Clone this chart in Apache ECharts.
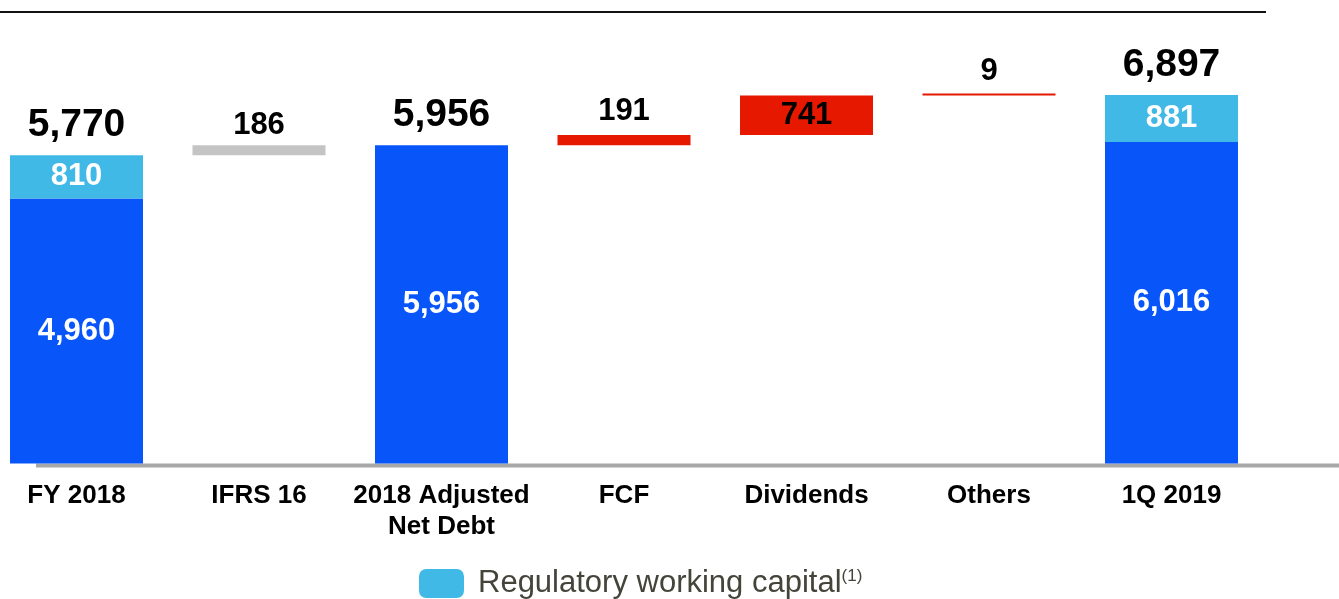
<html>
<head>
    <meta charset="utf-8">
    <title>Net Debt Bridge</title>
    <script src="https://cdn.jsdelivr.net/npm/echarts@6/dist/echarts.min.js"></script>
    <style>
        html, body { margin: 0; padding: 0; width: 100%; height: 100%; background: #fff; }
        #main { width: 1339px; height: 599px; }
    </style>
</head>
<body>
    <div id="main"></div>
    <script type="text/javascript">
        // data
        var categories = ['FY 2018', 'IFRS 16', '2018 Adjusted\nNet Debt', 'FCF', 'Dividends', 'Others', '1Q 2019'];
        var netDebt    = [4960, null, 5956, null, null, null, 6016];
        var regWorkCap = [810, null, null, null, null, null, 881];
        var changes    = [null, 186, null, 191, 741, 9, null];
        var totals     = [5770, null, 5956, null, null, null, 6897];

        var FONT = '"Liberation Sans", Arial, sans-serif';
        var DARK_BLUE = '#0856fa', LIGHT_BLUE = '#41b9e6', GREY = '#c4c4c4', RED = '#e61800';

        function fmt(v) { return Number(v).toLocaleString('en-US'); }

        // invisible base of the waterfall, computed from totals and changes
        var base = [];
        var running = 0;
        for (var i = 0; i < categories.length; i++) {
            if (totals[i] != null) {
                base.push(0);
                running = totals[i];
            } else {
                base.push(running);
                running += changes[i];
            }
        }

        // colour / label place for each change step
        var changeColor = { 'IFRS 16': GREY };
        var changeLabelPos = { 'Dividends': 'inside' };
        var changeLabelDist = { 'IFRS 16': 4, 'FCF': 8, 'Others': 6 };

        var changeData = changes.map(function (v, i) {
            if (v == null) return null;
            var c = categories[i];
            return {
                value: v,
                itemStyle: { color: changeColor[c] || RED },
                label: {
                    position: changeLabelPos[c] || 'top',
                    distance: changeLabelDist[c] || 5
                }
            };
        });

        // zero-height cap on top of each total column, only carries the total label
        var totalCap = totals.map(function (v) { return v == null ? null : 0; });

        var myChart = echarts.init(document.getElementById('main'));

        var option = {
            animation: false,
            grid: { left: 76.5, right: 167.5, top: 36, bottom: 135.5 },
            legend: {
                data: ['Regulatory working capital'],
                left: 414,
                top: 563,
                icon: 'roundRect',
                itemWidth: 45,
                itemHeight: 29,
                selectedMode: false,
                formatter: function (name) { return '{a|' + name + '}{b|(1)}'; },
                textStyle: {
                    rich: {
                        a: { fontFamily: FONT, fontSize: 31, color: '#44443a', padding: [0, 0, 0, 9] },
                        b: { fontFamily: FONT, fontSize: 17, color: '#44443a', verticalAlign: 'top', padding: [0, 0, 14, 0] }
                    }
                }
            },
            xAxis: {
                type: 'category',
                data: categories,
                boundaryGap: false,
                axisLine: { show: false },
                axisTick: { show: false },
                axisLabel: {
                    interval: 0,
                    margin: 17,
                    color: '#000',
                    fontFamily: FONT,
                    fontWeight: 'bold',
                    fontSize: 26,
                    lineHeight: 31
                }
            },
            yAxis: {
                type: 'value',
                min: 0,
                max: 8000,
                show: false,
                splitLine: { show: false }
            },
            graphic: [
                {
                    type: 'line', z: -1, silent: true,
                    shape: { x1: 0, y1: 12, x2: 1266, y2: 12 },
                    style: { stroke: '#111', lineWidth: 2 }
                },
                {
                    type: 'line', z: -1, silent: true,
                    shape: { x1: 36, y1: 465.5, x2: 1339, y2: 465.5 },
                    style: { stroke: '#a8a8a8', lineWidth: 4 }
                }
            ],
            series: [
                {
                    name: 'base',
                    type: 'bar',
                    stack: 'w',
                    barWidth: 133,
                    silent: true,
                    itemStyle: { color: 'transparent' },
                    data: base
                },
                {
                    name: 'Net debt',
                    type: 'bar',
                    stack: 'w',
                    barWidth: 133,
                    itemStyle: { color: DARK_BLUE },
                    label: {
                        show: true, position: 'inside',
                        color: '#fff', fontFamily: FONT, fontWeight: 'bold', fontSize: 31,
                        formatter: function (p) { return fmt(p.value); }
                    },
                    data: netDebt
                },
                {
                    name: 'Regulatory working capital',
                    type: 'bar',
                    stack: 'w',
                    barWidth: 133,
                    itemStyle: { color: LIGHT_BLUE },
                    label: {
                        show: true, position: 'inside',
                        color: '#fff', fontFamily: FONT, fontWeight: 'bold', fontSize: 31,
                        formatter: function (p) { return fmt(p.value); }
                    },
                    data: regWorkCap
                },
                {
                    name: 'Change',
                    type: 'bar',
                    stack: 'w',
                    barWidth: 133,
                    barMinHeight: 2,
                    label: {
                        show: true,
                        color: '#000', fontFamily: FONT, fontWeight: 'bold', fontSize: 31,
                        formatter: function (p) { return fmt(p.value); }
                    },
                    data: changeData
                },
                {
                    name: 'Total',
                    type: 'bar',
                    stack: 'w',
                    barWidth: 133,
                    silent: true,
                    itemStyle: { color: 'transparent' },
                    label: {
                        show: true, position: 'top', distance: 10,
                        color: '#000', fontFamily: FONT, fontWeight: 'bold', fontSize: 39,
                        formatter: function (p) { return fmt(totals[p.dataIndex]); }
                    },
                    data: totalCap
                }
            ]
        };
        myChart.setOption(option);
    </script>
</body>
</html>
